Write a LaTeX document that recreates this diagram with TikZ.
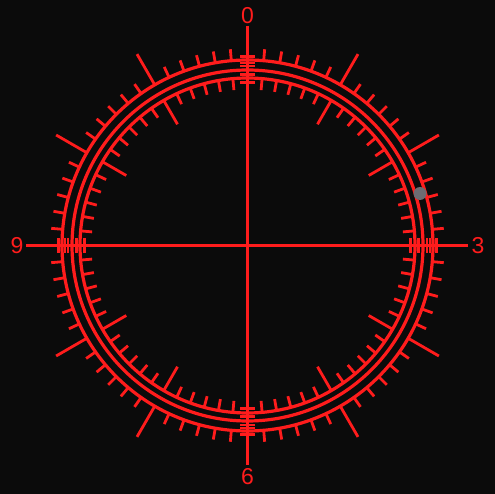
\documentclass[tikz,border=0pt]{standalone}
\usepackage{fontspec}
\setmainfont{Liberation Sans}
\usetikzlibrary{calc}
\begin{document}
\begin{tikzpicture}[x=1pt,y=-1pt,
  redline/.style={draw=dialred,line width=2.8pt},
  ring/.style={draw=dialred,line width=3.2pt},
  tickline/.style={draw=dialred,line width=2.8pt},
  numlabel/.style={text=dialred,font=\fontsize{23}{23}\selectfont,inner sep=0pt}]
\definecolor{dialred}{RGB}{255,28,28}
\definecolor{bgdark}{RGB}{11,11,11}
\definecolor{dotgray}{RGB}{108,108,114}
\fill[bgdark] (0,0) rectangle (495,494);
\useasboundingbox (0,0) rectangle (495,494);
\coordinate (c) at (247.5,245.5);
% rings
\draw[ring] (c) circle[radius=185.5];
\draw[ring] (c) circle[radius=175.5];
\draw[ring] (c) circle[radius=167.5];
% minor ticks every 5 degrees
\foreach \a in {0,5,...,355}{
  \pgfmathtruncatemacro{\m}{mod(\a,30)}
  \ifnum\m=0\relax\else
    \draw[tickline] ($(c)+(90-\a:185.5)$) -- ($(c)+(90-\a:197)$);
    \draw[tickline] ($(c)+(90-\a:167.5)$) -- ($(c)+(90-\a:156)$);
  \fi
}
% major ticks
\foreach \a in {30,60,120,150,210,240,300,330}{
  \draw[tickline] ($(c)+(90-\a:185.5)$) -- ($(c)+(90-\a:221)$);
  \draw[tickline] ($(c)+(90-\a:167.5)$) -- ($(c)+(90-\a:140)$);
}
% labels
\node[numlabel] (n0) at (247.5,16) {0};
\node[numlabel] (n3) at (478,246) {3};
\node[numlabel] (n6) at (247.5,477) {6};
\node[numlabel] (n9) at (17,246) {9};
% axes
\coordinate (vt) at (247.5,26);
\coordinate (vb) at (247.5,465);
\coordinate (hl) at (26,245.5);
\coordinate (hr) at (468,245.5);
\draw[redline] (vt) -- (vb);
\draw[redline] (hl) -- (hr);
% hatch marks at the cardinal points
\foreach \a in {0,90,180,270}{
  \foreach \r in {163,171,179.5,182.5,189}{
    \draw[tickline,line width=2.4pt] ($(c)+(90-\a:\r)+(180-\a:7.5)$) -- ($(c)+(90-\a:\r)+(-\a:7.5)$);
  }
}
% gray dot
\fill[dotgray] (420,193.5) circle[radius=6.5];
\end{tikzpicture}
\end{document}
